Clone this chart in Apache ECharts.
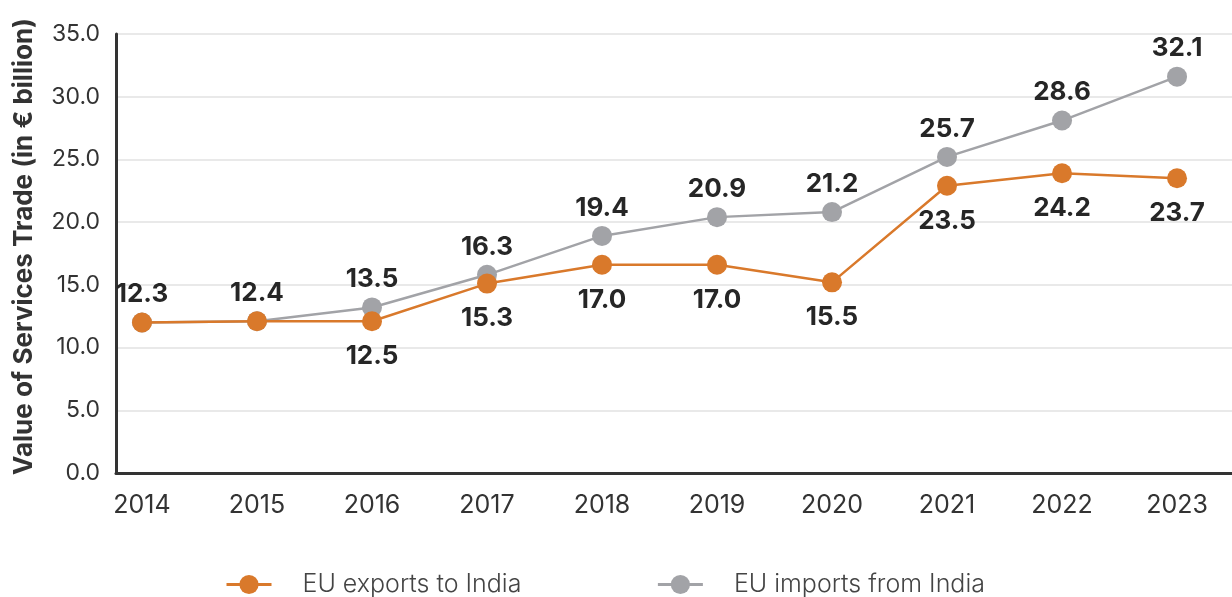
<!DOCTYPE html>
<html>
<head>
<meta charset="utf-8">
<title>EU - India services trade</title>
<script src="https://cdn.jsdelivr.net/npm/echarts@6/dist/echarts.min.js"></script>
<style>
    html, body { margin: 0; padding: 0; background: #fff; }
    #chart { width: 1232px; height: 597px; }
</style>
</head>
<body>
<div id="chart"></div>
<script>
    // years on the x axis
    var years = [2014, 2015, 2016, 2017, 2018, 2019, 2020, 2021, 2022, 2023];

    // where the points sit in the picture
    var exportsVals = [12.0, 12.1, 12.1, 15.1, 16.6, 16.6, 15.2, 22.9, 23.9, 23.5];
    var importsVals = [12.0, 12.1, 13.2, 15.8, 18.9, 20.4, 20.8, 25.2, 28.1, 31.6];

    // printed value labels
    var exportsLabels = ['', '', '12.5', '15.3', '17.0', '17.0', '15.5', '23.5', '24.2', '23.7'];
    var importsLabels = ['12.3', '12.4', '13.5', '16.3', '19.4', '20.9', '21.2', '25.7', '28.6', '32.1'];

    var FONT = 'Inter, "Noto Sans", sans-serif';
    var ORANGE = '#D9792B';
    var GREY = '#A2A3A7';

    var myChart = echarts.init(document.getElementById('chart'));

    function pairs(vals) {
        return years.map(function (y, i) { return [y, vals[i]]; });
    }

    var option = {
        animation: false,
        backgroundColor: '#fff',
        textStyle: { fontFamily: FONT },
        grid: { left: 116, right: 0, top: 34, bottom: 124, containLabel: false },
        legend: {
            left: 220,
            top: 567,
            itemWidth: 45,
            itemHeight: 24,
            itemGap: 135,
            lineStyle: { width: 3 },
            textStyle: {
                fontSize: 25,
                color: '#444',
                fontWeight: 300,
                fontFamily: FONT,
                width: 238,
                padding: [0, 0, 0, 26]
            },
            data: ['EU exports to India', 'EU imports from India']
        },
        xAxis: {
            type: 'value',
            min: 2013.774,
            max: 2023.478,
            axisLine: { show: true, onZero: false, lineStyle: { color: '#333', width: 3 } },
            axisTick: { show: false },
            splitLine: { show: false },
            axisLabel: {
                customValues: years,
                formatter: function (v) { return String(v); },
                fontSize: 25,
                color: '#333',
                margin: 20,
                fontFamily: FONT
            }
        },
        yAxis: {
            type: 'value',
            min: 0,
            max: 35,
            interval: 5,
            name: 'Value of Services Trade (in € billion)',
            nameLocation: 'middle',
            nameGap: 79,
            nameTextStyle: {
                fontSize: 26,
                fontWeight: 'bold',
                color: '#333',
                fontFamily: FONT,
                padding: [0, 0, 0, 14]
            },
            axisLine: { show: true, lineStyle: { color: '#333', width: 3 } },
            axisTick: { show: false },
            splitLine: { lineStyle: { color: '#e2e2e2', width: 1.5 } },
            axisLabel: {
                formatter: function (v) { return v.toFixed(1); },
                fontSize: 23,
                color: '#333',
                margin: 16,
                fontFamily: FONT
            }
        },
        series: [
            {
                name: 'EU exports to India',
                type: 'line',
                z: 3,
                data: pairs(exportsVals),
                symbol: 'circle',
                symbolSize: 20,
                itemStyle: { color: ORANGE },
                lineStyle: { color: ORANGE, width: 2.5 },
                label: {
                    show: true,
                    position: 'bottom',
                    distance: 12,
                    fontSize: 26,
                    fontWeight: 'bold',
                    color: '#262626',
                    fontFamily: FONT,
                    formatter: function (p) { return exportsLabels[p.dataIndex]; }
                }
            },
            {
                name: 'EU imports from India',
                type: 'line',
                z: 2,
                data: pairs(importsVals),
                symbol: 'circle',
                symbolSize: 20,
                itemStyle: { color: GREY },
                lineStyle: { color: GREY, width: 2.5 },
                label: {
                    show: true,
                    position: 'top',
                    distance: 5,
                    fontSize: 26,
                    fontWeight: 'bold',
                    color: '#262626',
                    fontFamily: FONT,
                    formatter: function (p) { return importsLabels[p.dataIndex]; }
                }
            }
        ]
    };

    myChart.setOption(option);
</script>
</body>
</html>
